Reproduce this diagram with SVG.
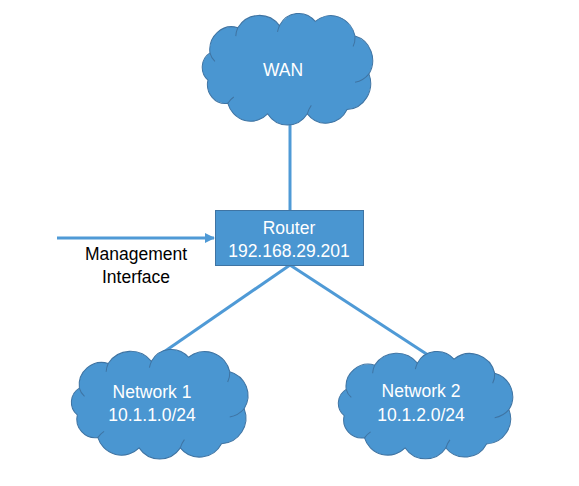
<svg xmlns="http://www.w3.org/2000/svg" width="579" height="486" viewBox="0 0 579 486">
  <style>
    .cloud { fill: #4A96D1; stroke: #3F74A3; stroke-width: 1; }
    .inner { fill: none; stroke: #3F74A3; stroke-width: 1; }
    .box { fill: #4A96D1; stroke: #3F74A3; stroke-width: 1; }
    .lbl { font-family: "Liberation Sans", Arial, sans-serif; font-size: 17.5px; fill: #FFFFFF; text-anchor: middle; }
    .dark { font-family: "Liberation Sans", Arial, sans-serif; font-size: 17.5px; fill: #000000; text-anchor: middle; }
    .conn { stroke: #4F9AD6; stroke-width: 3; fill: none; }
  </style>
  <defs>
    <g id="cloudShape">
      <path class="cloud" d="M12,38 A22,22 0 0 1 40,14 A26,26 0 0 1 82,12 A22,22 0 0 1 118,8 A25,25 0 0 1 158,22 A24,24 0 0 1 172,58 A25,25 0 0 1 150,92 A24,24 0 0 1 110,96 A24,24 0 0 1 70,96 A24,24 0 0 1 30,86 A18,18 0 0 1 10,64 A16,16 0 0 1 12,38 Z"/>
      <path class="inner" d="M12,38 A16,16 0 0 0 17,46"/>
      <path class="inner" d="M40,14 A22,22 0 0 0 38,22"/>
      <path class="inner" d="M82,12 A26,26 0 0 0 80,18"/>
      <path class="inner" d="M158,22 A20,20 0 0 1 156,32"/>
      <path class="inner" d="M172,58 A24,24 0 0 1 158,66"/>
      <path class="inner" d="M110,96 A24,24 0 0 1 114,88"/>
      <path class="inner" d="M30,86 A20,20 0 0 1 36,80"/>
    </g>
    <marker id="arrow" markerWidth="10" markerHeight="10" refX="9" refY="5" orient="auto" markerUnits="userSpaceOnUse">
      <path d="M0,0 L10,5 L0,10 Z" fill="#4F9AD6"/>
    </marker>
  </defs>

  <g id="connectors">
    <line class="conn" x1="290" y1="118" x2="290" y2="210"/>
    <line class="conn" x1="290" y1="265" x2="158" y2="356"/>
    <line class="conn" x1="290" y1="265" x2="428" y2="355"/>
    <line class="conn" x1="57" y1="238" x2="214" y2="238" marker-end="url(#arrow)"/>
  </g>

  <g id="wan">
    <use href="#cloudShape" transform="translate(198,13) scale(0.994,1.05)"/>
    <text class="lbl" x="283" y="76">WAN</text>
  </g>

  <g id="router">
    <rect class="box" x="215.5" y="210.5" width="148" height="55"/>
    <text class="lbl" x="289" y="234">Router</text>
    <text class="lbl" x="289" y="257">192.168.29.201</text>
  </g>

  <g id="management">
    <text class="dark" x="136" y="260">Management</text>
    <text class="dark" x="136" y="283">Interface</text>
  </g>

  <g id="network1">
    <use href="#cloudShape" transform="translate(67,349) scale(1.03,1.03)"/>
    <text class="lbl" x="152" y="398">Network 1</text>
    <text class="lbl" x="152" y="421">10.1.1.0/24</text>
  </g>

  <g id="network2">
    <use href="#cloudShape" transform="translate(334,351) scale(1.017,1.01)"/>
    <text class="lbl" x="421" y="397">Network 2</text>
    <text class="lbl" x="421" y="421">10.1.2.0/24</text>
  </g>
</svg>
